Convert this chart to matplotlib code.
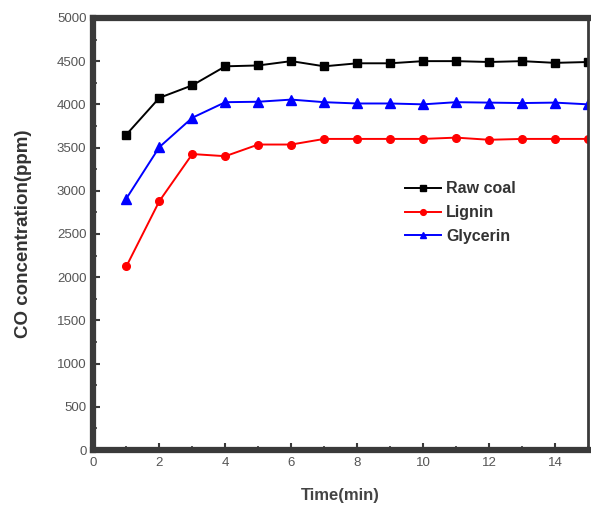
import matplotlib
matplotlib.use("Agg")
import matplotlib.pyplot as plt
from matplotlib.ticker import MultipleLocator

plt.rcParams['font.family'] = ['Liberation Sans', 'DejaVu Sans']

time_min = list(range(1, 16))
raw_coal = [3650, 4075, 4220, 4440, 4450, 4500, 4440, 4475, 4475, 4500, 4500, 4490, 4500, 4480, 4490]
lignin = [2125, 2880, 3425, 3400, 3535, 3535, 3600, 3600, 3600, 3600, 3615, 3590, 3600, 3600, 3600]
glycerin = [2910, 3505, 3845, 4025, 4030, 4055, 4025, 4010, 4010, 4000, 4025, 4020, 4015, 4020, 4000]

fig = plt.figure(figsize=(5.91, 5.12), dpi=100)
ax = fig.add_axes([0.158, 0.121, 0.837, 0.844])

ax.plot(time_min, raw_coal, color='black', marker='s', markersize=5.5, lw=1.4, label='Raw coal')
ax.plot(time_min, lignin, color='red', marker='o', markersize=5.5, lw=1.4, label='Lignin')
ax.plot(time_min, glycerin, color='blue', marker='^', markersize=6.5, lw=1.4, label='Glycerin')

ax.set_xlim(0, 15)
ax.set_ylim(0, 5000)
ax.xaxis.set_major_locator(MultipleLocator(2))
ax.xaxis.set_minor_locator(MultipleLocator(1))
ax.yaxis.set_major_locator(MultipleLocator(500))
ax.yaxis.set_minor_locator(MultipleLocator(250))

for name, s in ax.spines.items():
    s.set_linewidth(2 if name == 'right' else 4.5)
    s.set_color('#3a3a3a')

ax.tick_params(which='major', direction='in', length=5, width=1.5, color='#3a3a3a',
               labelsize=9.5, labelcolor='#555555', pad=5)
ax.tick_params(which='minor', direction='in', length=3, width=1.2, color='#3a3a3a')

ax.set_xlabel('Time(min)', fontsize=12, fontweight='bold', color='#444444', labelpad=14)
ax.set_ylabel('CO concentration(ppm)', fontsize=13.5, fontweight='bold', color='#333333', labelpad=18)

ax.legend(loc='upper left', bbox_to_anchor=(0.6, 0.655), frameon=False,
          prop={'size': 11.5, 'weight': 'bold'}, markerscale=0.75,
          handlelength=2.3, handletextpad=0.3, labelspacing=0.55, labelcolor='#333333')

fig.savefig('out.png', dpi=100)
